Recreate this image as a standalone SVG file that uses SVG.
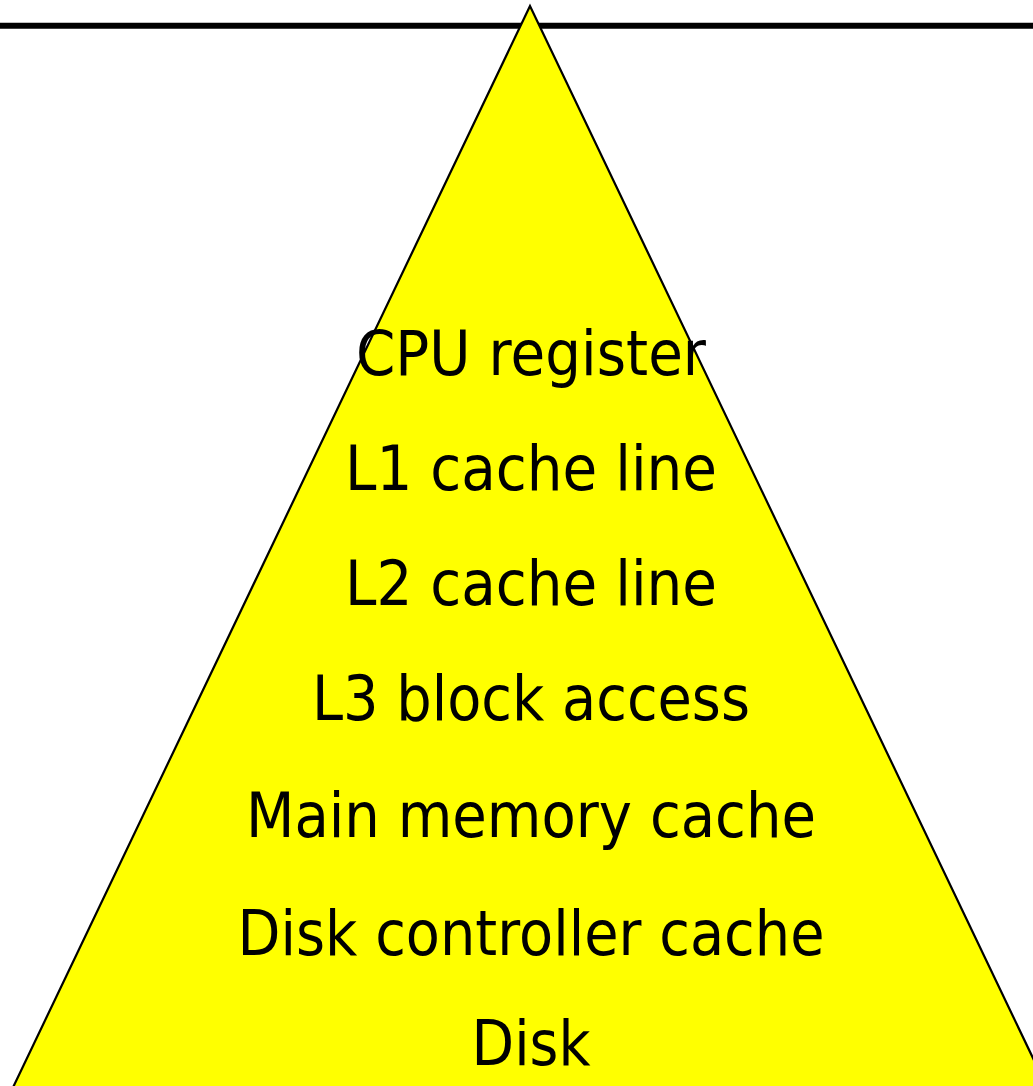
<svg xmlns="http://www.w3.org/2000/svg" width="1033" height="1086" viewBox="0 0 1033 1086">
  <style>
    .lbl { font-family: "DejaVu Sans", "Liberation Sans", sans-serif; font-size: 63px; fill: #000; text-anchor: middle; }
  </style>
  <rect x="0" y="0" width="1033" height="1086" fill="#fff"/>
  <g id="topline">
    <line x1="0" y1="25.8" x2="1033" y2="25.8" stroke="#000" stroke-width="6"/>
  </g>
  <g id="pyramid">
    <polygon points="530,6 7,1100 1053,1100" fill="#ffff00" stroke="#000" stroke-width="2.2" stroke-linejoin="miter"/>
  </g>
  <g id="labels">
    <text id="cpu" class="lbl" x="531" y="375" textLength="350" lengthAdjust="spacingAndGlyphs">CPU register</text>
    <text id="l1" class="lbl" x="531" y="490" textLength="372" lengthAdjust="spacingAndGlyphs">L1 cache line</text>
    <text id="l2" class="lbl" x="531" y="605" textLength="372" lengthAdjust="spacingAndGlyphs">L2 cache line</text>
    <text id="l3" class="lbl" x="531" y="720" textLength="438" lengthAdjust="spacingAndGlyphs">L3 block access</text>
    <text id="mm" class="lbl" x="531" y="837" textLength="570" lengthAdjust="spacingAndGlyphs">Main memory cache</text>
    <text id="dcc" class="lbl" x="531" y="955" textLength="587" lengthAdjust="spacingAndGlyphs">Disk controller cache</text>
    <text id="disk" class="lbl" x="531" y="1065" textLength="119" lengthAdjust="spacingAndGlyphs">Disk</text>
  </g>
</svg>
